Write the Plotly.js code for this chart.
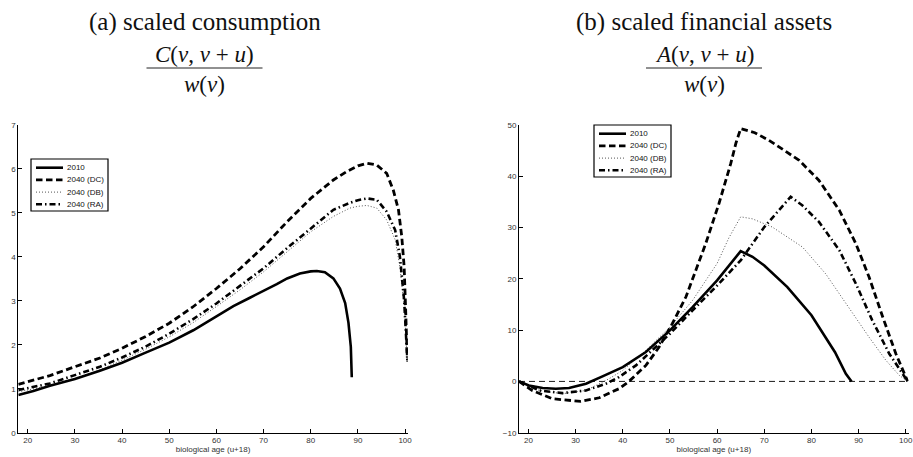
<!DOCTYPE html>
<html>
<head>
<meta charset="utf-8">
<script src="https://cdn.plot.ly/plotly-3.0.1.min.js"></script>
<style>
  html, body { margin: 0; padding: 0; background: #fff; }
  #chart { width: 913px; height: 457px; }
</style>
</head>
<body>
<div id="chart"></div>
<script>
// ---------------- DATA ----------------
const seriesNames = ["2010", "2040 (DC)", "2040 (DB)", "2040 (RA)"];
const panelTitles = ["(a) scaled consumption", "(b) scaled financial assets"];
const xAxisLabel = "biological age (u+18)";
const xTicks = [20, 30, 40, 50, 60, 70, 80, 90, 100];
const yTicksCons = [0, 1, 2, 3, 4, 5, 6, 7];
const yTicksAssets = [-10, 0, 10, 20, 30, 40, 50];

// (a) scaled consumption C(v,v+u)/w(v)
const consAge2010 = [18, 21.2, 24.7, 30, 35.3, 40, 44.5, 50, 55.1, 60, 63.6, 67.1, 70, 72.8, 75, 77.7, 80, 81.3, 83, 84.8, 86.2, 87.3, 88.0, 88.5, 88.7];
const cons2010    = [0.86, 0.95, 1.07, 1.22, 1.41, 1.59, 1.80, 2.05, 2.33, 2.64, 2.88, 3.07, 3.22, 3.38, 3.51, 3.62, 3.67, 3.68, 3.65, 3.51, 3.28, 2.95, 2.50, 1.95, 1.26];

const consAgeDC = [18, 24.7, 30, 35.3, 40, 45, 50, 55, 60, 65, 70, 75, 80, 84.8, 87.6, 90, 91.9, 94, 96.1, 97.5, 98.6, 99.3, 99.8, 100.2, 100.5];
const consDC    = [1.10, 1.30, 1.50, 1.70, 1.92, 2.19, 2.49, 2.86, 3.28, 3.73, 4.23, 4.80, 5.33, 5.75, 5.94, 6.07, 6.13, 6.09, 5.90, 5.52, 5.07, 4.46, 3.78, 2.79, 1.65];

const consAgeDB = [18, 24.7, 30, 35.3, 40, 45, 50, 55, 60, 65, 70, 75, 80, 84.8, 88.3, 90, 91.9, 94, 96.1, 97.9, 98.9, 99.8, 100.5];
const consDB    = [0.93, 1.07, 1.24, 1.43, 1.65, 1.90, 2.18, 2.50, 2.87, 3.25, 3.66, 4.12, 4.57, 4.92, 5.11, 5.15, 5.17, 5.11, 4.84, 4.39, 3.78, 2.87, 1.62];

const consAgeRA = [18, 24.7, 30, 35.3, 40, 45, 50, 55, 60, 65, 70, 75, 80, 84.8, 88.3, 90, 91.9, 94, 96.1, 97.9, 98.9, 99.8, 100.5];
const consRA    = [0.97, 1.12, 1.31, 1.50, 1.71, 1.96, 2.25, 2.58, 2.94, 3.33, 3.74, 4.20, 4.65, 5.07, 5.23, 5.29, 5.33, 5.30, 5.03, 4.61, 4.01, 3.02, 1.62];

// (b) scaled financial assets A(v,v+u)/w(v)
const assetAge2010 = [18, 20.1, 23, 25.8, 28.6, 32.2, 35.7, 40, 44.9, 50, 54.8, 60, 65, 67.5, 70, 74.9, 80, 85, 87.3, 88.5];
const asset2010    = [0, -0.78, -1.30, -1.43, -1.30, -0.46, 0.98, 2.8, 5.72, 9.95, 14.5, 19.7, 25.4, 24.3, 22.6, 18.4, 12.9, 5.7, 1.5, 0];

const assetAgeDC = [18, 20.8, 25.1, 31.1, 35, 39.2, 41.3, 44.9, 47.7, 50.5, 53.4, 57.6, 60.4, 62.9, 64, 65, 68, 71, 74, 77.4, 81.6, 85.9, 89.4, 92.2, 95.1, 97.9, 100.4];
const assetDC    = [0, -1.76, -3.38, -3.90, -3.19, -1.43, 0, 3.12, 6.7, 11.25, 16.5, 26.9, 34.7, 42.5, 46.5, 49.3, 48.5, 47.0, 45.2, 43.1, 39.2, 33.4, 26.9, 20.4, 12.6, 5.4, 0];

const assetAgeDB = [18, 22.3, 27.2, 32.2, 35, 37.1, 40, 44.9, 50, 54.8, 60, 62.5, 65, 67.5, 71.7, 78.1, 83, 87.3, 92.2, 95.8, 98.6, 100.4];
const assetDB    = [0, -1.76, -2.40, -1.76, -0.46, 0.52, 2.15, 6.05, 10.6, 15.8, 23.0, 28.0, 32.1, 31.7, 30.1, 26.2, 21.0, 15.2, 8.65, 4.1, 1.2, 0];

const assetAgeRA = [18, 22.3, 27.2, 32.2, 36.4, 39.2, 42.8, 46.3, 50, 54.8, 60, 65, 70, 75.6, 78.1, 81.6, 85.9, 89.4, 92.9, 96.5, 100.4];
const assetRA    = [0, -1.76, -2.28, -1.76, -0.46, 0.85, 3.12, 6.05, 9.3, 13.85, 18.7, 23.6, 30.1, 36.0, 34.3, 31.1, 25.6, 19.1, 11.9, 5.4, 0];

const zeroAge  = [18, 100.6];
const zeroLine = [0, 0];

// ---------------- STYLE ----------------
const W = 913, H = 457;
const px = v => v / W;
const py = v => 1 - v / H;

const styles = [
  { color: "#000", width: 2.6, dash: "solid" },
  { color: "#000", width: 2.8, dash: "6.5px,3.5px" },
  { color: "#555", width: 1.0, dash: "1px,2px" },
  { color: "#000", width: 2.6, dash: "6px,3px,1.5px,3px" }
];

const consX = [consAge2010, consAgeDC, consAgeDB, consAgeRA];
const consY = [cons2010, consDC, consDB, consRA];
const assetX = [assetAge2010, assetAgeDC, assetAgeDB, assetAgeRA];
const assetY = [asset2010, assetDC, assetDB, assetRA];

const traces = [];
const order = [2, 3, 1, 0];
order.forEach(i => {
  traces.push({ type: "scatter", mode: "lines", x: consX[i], y: consY[i], name: seriesNames[i],
    xaxis: "x", yaxis: "y", line: styles[i], showlegend: false, hoverinfo: "x+y+name" });
});
traces.push({ type: "scatter", mode: "lines", x: zeroAge, y: zeroLine, name: "zero",
  xaxis: "x2", yaxis: "y2", line: { color: "#000", width: 0.9, dash: "6px,4px" }, showlegend: false });
order.forEach(i => {
  traces.push({ type: "scatter", mode: "lines", x: assetX[i], y: assetY[i], name: seriesNames[i],
    xaxis: "x2", yaxis: "y2", line: styles[i], showlegend: false, hoverinfo: "x+y+name" });
});

const tickFont = { family: "Liberation Sans, Arial, sans-serif", size: 8, color: "#333" };
const axisBase = {
  showline: true, linecolor: "#000", linewidth: 1, mirror: false,
  ticks: "inside", ticklen: 4, tickwidth: 1, tickcolor: "#000",
  showgrid: false, zeroline: false, tickfont: tickFont, fixedrange: true,
  ticklabeloverflow: "allow"
};

const yDom = [py(432.7), py(125)];
const layout = {
  width: W, height: H,
  margin: { l: 0, r: 0, t: 0, b: 0 },
  paper_bgcolor: "#fff", plot_bgcolor: "rgba(0,0,0,0)",
  showlegend: false,
  xaxis: Object.assign({}, axisBase, { domain: [px(18.3), px(407.9)], range: [18, 100.6], tickvals: xTicks,
    title: { text: xAxisLabel, font: tickFont, standoff: 2 }, anchor: "y" }),
  yaxis: Object.assign({}, axisBase, { domain: yDom, range: [0, 7], tickvals: yTicksCons, anchor: "x" }),
  xaxis2: Object.assign({}, axisBase, { domain: [px(519), px(908.6)], range: [18, 100.6], tickvals: xTicks,
    title: { text: xAxisLabel, font: tickFont, standoff: 2 }, anchor: "y2" }),
  yaxis2: Object.assign({}, axisBase, { domain: yDom, range: [-10, 50], tickvals: yTicksAssets, anchor: "x2" }),
  shapes: [],
  annotations: []
};

// Panel titles with fraction
const titleFont = { family: "Liberation Serif, Times New Roman, serif", size: 25, color: "#111" };
const mathFont = { family: "Liberation Serif, Times New Roman, serif", size: 23, color: "#111" };
const numerators = ["<i>C</i>(<i>v</i>, <i>v</i> + <i>u</i>)", "<i>A</i>(<i>v</i>, <i>v</i> + <i>u</i>)"];
const denominator = "<i>w</i>(<i>v</i>)";
const titleCenters = [204.5, 704];
titleCenters.forEach((cx, k) => {
  layout.annotations.push({ xref: "paper", yref: "paper", x: px(cx), y: py(22), xanchor: "center", yanchor: "middle",
    text: panelTitles[k], showarrow: false, font: titleFont });
  layout.annotations.push({ xref: "paper", yref: "paper", x: px(cx), y: py(54), xanchor: "center", yanchor: "middle",
    text: numerators[k], showarrow: false, font: mathFont });
  layout.annotations.push({ xref: "paper", yref: "paper", x: px(cx), y: py(84), xanchor: "center", yanchor: "middle",
    text: denominator, showarrow: false, font: mathFont });
  layout.shapes.push({ type: "line", xref: "paper", yref: "paper", x0: px(cx - 58), x1: px(cx + 58), y0: py(68), y1: py(68),
    line: { color: "#222", width: 1 } });
});

// Legends (drawn manually to match compact MATLAB legend boxes)
const legendFont = { family: "Liberation Sans, Arial, sans-serif", size: 8, color: "#111" };
function addLegend(left, top) {
  const boxW = 77, boxH = 52, row = 12.2, first = 8.7;
  layout.shapes.push({ type: "rect", xref: "paper", yref: "paper", layer: "above",
    x0: px(left), x1: px(left + boxW), y0: py(top), y1: py(top + boxH),
    line: { color: "#000", width: 1.2 }, fillcolor: "#fff" });
  seriesNames.forEach((nm, i) => {
    const yc = top + first + i * row;
    layout.shapes.push({ type: "line", xref: "paper", yref: "paper", layer: "above",
      x0: px(left + 5), x1: px(left + 32), y0: py(yc), y1: py(yc), line: styles[i] });
    layout.annotations.push({ xref: "paper", yref: "paper", x: px(left + 33.5), y: py(yc), xanchor: "left", yanchor: "middle",
      text: nm, showarrow: false, font: legendFont });
  });
}
addLegend(31, 159);
addLegend(594, 125);

Plotly.newPlot("chart", traces, layout, { displayModeBar: false, staticPlot: true });
</script>
</body>
</html>
